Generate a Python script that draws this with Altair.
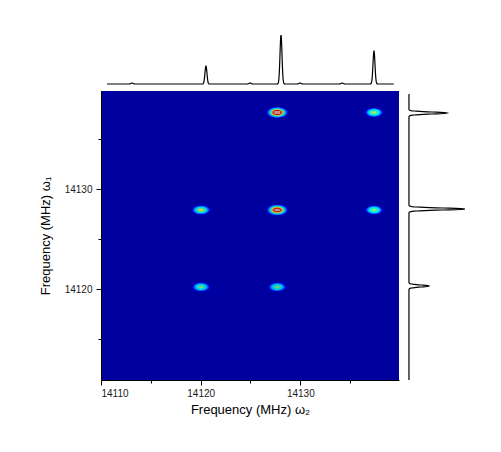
import numpy as np
import pandas as pd
import altair as alt

# ---- data ----
# 2D spectrum: cross-peak grid (MHz)
omega2_peaks = [14120.05, 14127.7, 14137.4]
omega1_peaks = [14120.2, 14127.9, 14137.65]
# intensity of each cross peak (rows: omega1, cols: omega2); 0 = absent
cross_peaks = [
    [0.50, 0.50, 0.00],
    [0.60, 1.18, 0.50],
    [0.00, 1.28, 0.54],
]
peak_sigma_omega2 = 0.45
peak_sigma_omega1 = 0.24

# top projection (omega2 axis)
top_peak_pos = [14113.1, 14120.53, 14124.95, 14128.06, 14129.97, 14134.2, 14137.39]
top_peak_int = [1.0, 18.0, 1.0, 49.0, 1.0, 1.0, 33.0]
# right projection (omega1 axis)
right_peak_pos = [14120.3, 14128.0, 14137.6]
right_peak_int = [20.0, 56.0, 38.0]
proj_sigma = 0.1

x_ticks = [14110, 14115, 14120, 14125, 14130, 14135]
y_ticks = [14115, 14120, 14125, 14130, 14135]

x_domain = [14110.0, 14139.9]
y_domain = [14110.9, 14139.8]

# ---- build tables ----
step = 0.1
gx = np.arange(x_domain[0] + step / 2, x_domain[1], step)
gy = np.arange(y_domain[0] + step / 2, y_domain[1], step)
X, Y = np.meshgrid(gx, gy)
Z = np.zeros_like(X)
for i, yc in enumerate(omega1_peaks):
    for j, xc in enumerate(omega2_peaks):
        a = cross_peaks[i][j]
        if a > 0:
            Z += a * np.exp(-((X - xc) ** 2) / (2 * peak_sigma_omega2 ** 2)
                            - ((Y - yc) ** 2) / (2 * peak_sigma_omega1 ** 2))
mask = Z > 0.06
heat = pd.DataFrame({
    "x": X[mask] - step / 2,
    "x2": X[mask] + step / 2 + 0.01,
    "y": Y[mask] - step / 2,
    "y2": Y[mask] + step / 2 + 0.01,
    "z": Z[mask],
})

tx = np.arange(14110.6, 14139.4, 0.02)
tz = np.zeros_like(tx)
for p, a in zip(top_peak_pos, top_peak_int):
    tz += a * np.exp(-((tx - p) ** 2) / (2 * proj_sigma ** 2))
top = pd.DataFrame({"x": tx, "y": 14140.5 + 0.1 * tz})

ry = np.arange(14110.9, 14139.5, 0.02)
rz = np.zeros_like(ry)
for p, a in zip(right_peak_pos, right_peak_int):
    rz += a * np.exp(-((ry - p) ** 2) / (2 * proj_sigma ** 2))
right = pd.DataFrame({"x": 14140.9 + 0.1003 * rz, "y": ry})

# ---- chart ----
xs = alt.Scale(domain=x_domain, nice=False, zero=False)
ys = alt.Scale(domain=y_domain, nice=False, zero=False)

font = "Liberation Sans"
x_axis = alt.Axis(
    title="Frequency (MHz) ω₂",
    values=x_ticks,
    labelExpr="datum.value % 10 === 0 ? format(datum.value, 'd') : ''",
    tickSize={"condition": {"test": "datum.value % 10 === 0", "value": 5}, "value": 3},
    grid=False, domainColor="black", tickColor="black",
    labelFont=font, labelFontSize=10, labelColor="#1a1a1a", labelPadding=3,
    titleFont=font, titleFontSize=13, titleFontWeight="normal", titleColor="black",
    titlePadding=5,
)
y_axis = alt.Axis(
    title="Frequency (MHz) ω₁",
    values=y_ticks,
    labelExpr="datum.value % 10 === 0 ? format(datum.value, 'd') : ''",
    tickSize={"condition": {"test": "datum.value % 10 === 0", "value": 5}, "value": 3},
    grid=False, domainColor="black", tickColor="black",
    labelFont=font, labelFontSize=10, labelColor="#1a1a1a", labelPadding=4,
    titleFont=font, titleFontSize=13, titleFontWeight="normal", titleColor="black",
    titlePadding=12,
)

color_scale = alt.Scale(
    domain=[0.0, 0.05, 0.11, 0.3, 0.6, 0.85, 0.95, 1.0],
    range=["#00009f", "#00009f", "#0000ff", "#00ffff", "#ffff00", "#ff0000", "#ff0000", "#ffffff"],
    clamp=True,
)

heat_layer = alt.Chart(heat).mark_rect(strokeWidth=0).encode(
    x=alt.X("x:Q", scale=xs, axis=x_axis),
    x2="x2:Q",
    y=alt.Y("y:Q", scale=ys, axis=y_axis),
    y2="y2:Q",
    color=alt.Color("z:Q", scale=color_scale, legend=None),
)

top_layer = alt.Chart(top).mark_line(color="black", strokeWidth=1.2, clip=False).encode(
    x=alt.X("x:Q", scale=xs),
    y=alt.Y("y:Q", scale=ys),
    order="x:Q",
)

right_layer = alt.Chart(right).mark_line(color="black", strokeWidth=1.2, clip=False).encode(
    x=alt.X("x:Q", scale=xs),
    y=alt.Y("y:Q", scale=ys),
    order="y:Q",
)

chart = alt.layer(heat_layer, top_layer, right_layer).properties(
    width=298, height=289,
    padding={"left": 93, "top": 83, "right": 80, "bottom": 60},
    autosize="none",
).configure_view(fill="#00009f", stroke=None)

chart.save("out.html", embed_options={"renderer": "svg", "actions": False})
